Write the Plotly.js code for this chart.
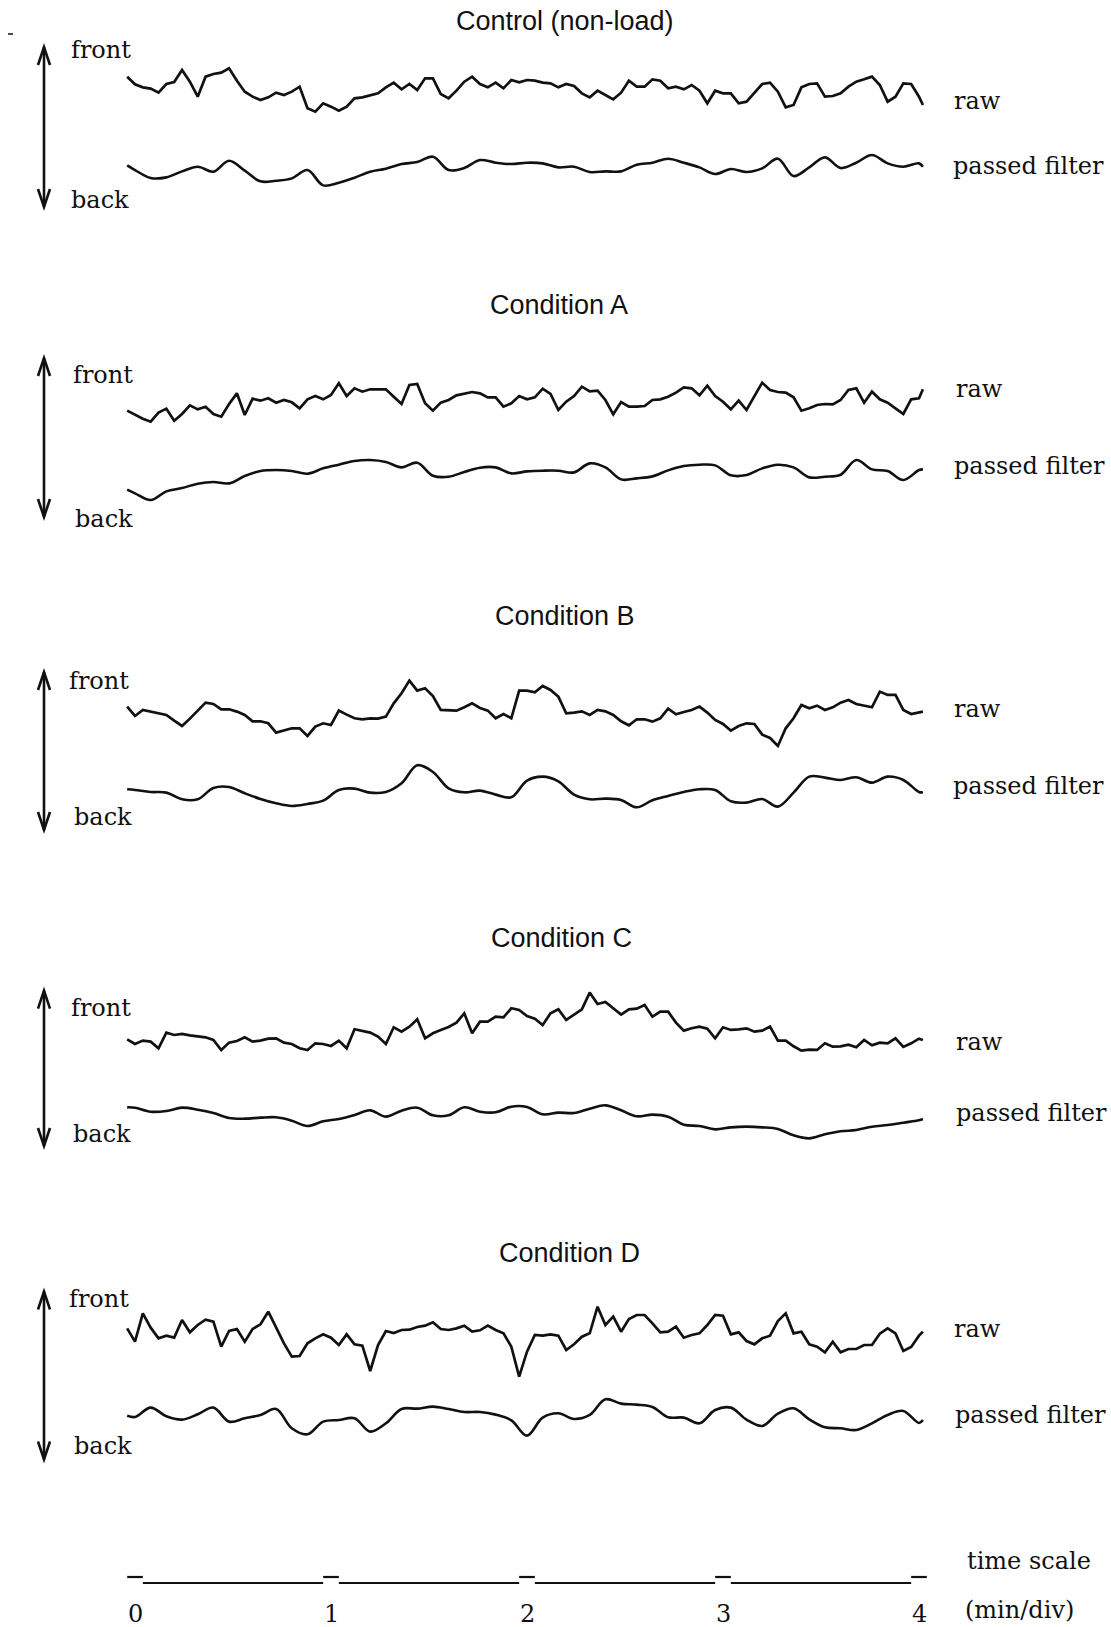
<!DOCTYPE html>
<html><head><meta charset="utf-8">
<script src="https://cdn.plot.ly/plotly-3.0.1.min.js"></script>
<style>html,body{margin:0;padding:0;background:#fff;}#chart{width:1111px;height:1627px;}</style>
</head><body><div id="chart"></div>
<script>
// ---------- DATA (time in minutes, displacement in arbitrary units, + = front) ----------
const T_RAW = [-0.04,
 0,0.04,0.08,0.12,0.16,0.2,0.24,0.28,0.32,0.36,
 0.4,0.44,0.48,0.52,0.56,0.6,0.64,0.68,0.72,0.76,
 0.8,0.84,0.88,0.92,0.96,1,1.04,1.08,1.12,1.16,
 1.2,1.24,1.28,1.32,1.36,1.4,1.44,1.48,1.52,1.56,
 1.6,1.64,1.68,1.72,1.76,1.8,1.84,1.88,1.92,1.96,
 2,2.04,2.08,2.12,2.16,2.2,2.24,2.28,2.32,2.36,
 2.4,2.44,2.48,2.52,2.56,2.6,2.64,2.68,2.72,2.76,
 2.8,2.84,2.88,2.92,2.96,3,3.04,3.08,3.12,3.16,
 3.2,3.24,3.28,3.32,3.36,3.4,3.44,3.48,3.52,3.56,
 3.6,3.64,3.68,3.72,3.76,3.8,3.84,3.88,3.92,3.96,
 4,4.02];
const T_FILT = [-0.04,
 0,0.08,0.16,0.24,0.32,
 0.4,0.48,0.56,0.64,0.72,
 0.8,0.88,0.96,1.04,1.12,
 1.2,1.28,1.36,1.44,1.52,
 1.6,1.68,1.76,1.84,1.92,
 2,2.08,2.16,2.24,2.32,
 2.4,2.48,2.56,2.64,2.72,
 2.8,2.88,2.96,3.04,3.12,
 3.2,3.28,3.36,3.44,3.52,
 3.6,3.68,3.76,3.84,3.92,
 4,4.02];

const TITLES = ["Control (non-load)","Condition A","Condition B","Condition C","Condition D"];

const CONTROL_RAW = [40,
 17,8,4,-8,18,24,60,25,-20,40,
 48,52,65,28,-5,-20,-30,-22,-8,-15,
 -5,10,-55,-65,-40,-50,-62,-50,-25,-22,
 -15,-10,8,22,2,18,0,35,35,-12,
 -25,-2,25,40,18,8,22,5,30,23,
 30,28,22,20,8,18,12,-10,-22,-2,
 -15,-28,-8,28,10,10,32,28,5,10,
 2,15,-2,-40,-2,-10,-10,-40,-35,-8,
 18,22,-5,-52,-45,8,18,20,-20,-18,
 -10,10,25,32,40,15,-35,-20,20,18,
 -20,-45];
const CONTROL_FILT = [4,
 -10,-34,-32,-14,0,
 -15,18,-12,-44,-42,
 -35,-10,-56,-48,-33,
 -15,-6,8,14,30,
 -10,-4,20,12,8,
 12,10,-2,0,-16,
 -14,-14,6,12,24,
 12,-2,-22,-7,-16,
 -5,24,-28,-2,28,
 -4,12,35,10,0,
 10,0];

const A_RAW = [-32,
 -45,-56,-65,-38,-26,-62,-42,-16,-28,-20,
 -42,-50,-12,20,-45,4,-2,5,-8,0,
 -7,-25,2,12,2,15,50,12,35,25,
 32,32,32,10,-12,45,48,-10,-32,-8,
 0,14,20,24,20,8,8,-20,-10,12,
 2,8,34,18,-30,-5,12,40,26,28,
 0,-43,-6,-20,-20,-18,0,2,10,22,
 38,35,14,43,12,-5,-28,-2,-30,10,
 52,30,24,22,8,-32,-25,-15,-12,-13,
 0,30,35,-8,25,2,-8,-25,-42,2,
 5,32];
const A_FILT = [-39,
 -50,-70,-44,-34,-21,
 -16,-20,2,17,20,
 17,9,25,36,47,
 50,44,28,42,3,
 0,14,27,28,10,
 16,18,18,13,40,
 28,-8,-5,1,19,
 32,36,34,4,5,
 25,36,28,-2,0,
 6,50,22,17,-10,
 20,22];

const B_RAW = [20,
 -8,10,5,-2,-5,-22,-38,-16,8,32,
 28,12,12,5,-5,-24,-24,-30,-58,-52,
 -45,-45,-68,-40,-30,-35,8,-4,-15,-18,
 -15,-16,-10,30,60,98,68,75,52,10,
 8,8,18,30,16,8,-15,-2,-15,68,
 68,63,82,70,50,0,2,6,-5,10,
 6,-5,-24,-36,-18,-18,-25,-15,14,-3,
 4,10,20,2,-20,-32,-52,-38,-30,-32,
 -64,-74,-98,-45,-15,25,15,23,10,18,
 32,40,28,23,18,65,55,55,10,-2,
 2,5];
const B_FILT = [12,
 10,4,2,-18,-18,
 16,19,0,-17,-30,
 -38,-32,-22,10,14,
 2,4,30,84,64,
 15,3,8,-4,-12,
 38,50,36,-4,-18,
 -16,-20,-42,-21,-8,
 4,12,10,-24,-28,
 -17,-40,2,50,47,
 40,48,32,50,40,
 4,3];

const C_RAW = [-18,
 -32,-22,-25,-45,2,-5,-2,-6,-10,-12,
 -20,-50,-28,-23,-12,-25,-22,-16,-15,-28,
 -32,-45,-50,-30,-32,-38,-22,-45,12,8,
 2,-10,-32,18,5,20,42,-15,0,10,
 19,32,60,0,35,35,50,48,75,70,
 52,44,25,60,72,40,55,72,122,88,
 94,75,56,72,74,85,50,65,65,32,
 8,15,20,14,-15,18,10,12,15,5,
 8,20,-22,-22,-39,-52,-49,-50,-30,-40,
 -39,-34,-42,-20,-36,-28,-30,-15,-41,-30,
 -16,-20];
const C_FILT = [38,
 37,25,27,37,31,
 21,6,4,7,8,
 -2,-18,-4,3,15,
 29,10,28,37,14,
 14,38,25,23,40,
 39,17,22,21,34,
 44,29,11,16,10,
 -14,-18,-28,-22,-20,
 -22,-27,-46,-55,-43,
 -34,-30,-20,-15,-8,
 -1,3];

const D_RAW = [20,
 -20,65,22,-10,-2,-8,45,8,30,46,
 40,-35,12,18,-20,18,32,70,20,-25,
 -65,-63,-25,-10,2,-8,-30,2,-28,-32,
 -108,-30,12,6,15,16,24,28,38,18,
 15,20,28,10,14,28,15,5,-35,-125,
 -50,0,-2,2,-2,-45,-28,-5,5,85,
 30,55,10,48,60,60,35,8,10,25,
 -8,0,5,30,60,58,2,8,-18,-28,
 -10,-2,42,65,5,10,-28,-35,-52,-20,
 -52,-42,-42,-30,-30,4,20,5,-48,-36,
 -2,10];
const D_FILT = [8,
 4,32,6,-4,12,
 32,-10,0,10,28,
 -30,-48,-10,-5,0,
 -40,-15,28,29,35,
 28,19,19,11,-6,
 -52,2,15,-2,10,
 57,44,41,34,3,
 2,-15,25,32,-4,
 -23,14,30,-3,-27,
 -30,-35,-15,10,22,
 -14,-5];

const TICKS = [0,1,2,3,4];
const TICK_TEXT = ["0","1","2","3","4"];

// ---------- LAYOUT CONSTANTS (pixels) ----------
const W = 1111, H = 1627;
const X0_PX = 135, PX_PER_MIN = 196;
const UNITS_PER_PX = 3;
const INK = '#111111';

const RAWS = [CONTROL_RAW, A_RAW, B_RAW, C_RAW, D_RAW];
const FILTS = [CONTROL_FILT, A_FILT, B_FILT, C_FILT, D_FILT];
const PANELS = [
 {rawBase:90,    filtBase:166.7, title:[565,21],   arrow:[47,207],    front:[68.5,50],  back:[68.5,200], raw:[952,100.6], pf:[951,166]},
 {rawBase:400,   filtBase:476.7, title:[559,305],  arrow:[358,517],   front:[70.5,375.5], back:[72.6,518.7], raw:[954,389], pf:[952,465.7]},
 {rawBase:713.3, filtBase:793.3, title:[565,616],  arrow:[672,830],   front:[67.4,680.5], back:[71.6,817.4], raw:[952,708.5], pf:[951,786.3]},
 {rawBase:1033.3,filtBase:1120,  title:[561.7,937.7], arrow:[990.6,1146], front:[68.5,1008], back:[70.5,1133.8], raw:[954,1041.5], pf:[954,1113]},
 {rawBase:1335,  filtBase:1418.3,title:[569.5,1253], arrow:[1291.5,1459.5], front:[67.4,1298.7], back:[71.6,1446], raw:[952,1328.8], pf:[953,1415]}
];
const ARROW_X = 44;
const TS_LINE_PX = 1583, TS_DASH_PX = 1577, TS_LABEL_PX = 1614;

const fx = p => p / W;
const fy = p => 1 - p / H;

const traces = [];
const layout = {
  width: W, height: H,
  margin: {l:0, r:0, t:0, b:0, pad:0},
  paper_bgcolor: '#fff', plot_bgcolor: '#fff',
  showlegend: false,
  xaxis: {range: [-X0_PX / PX_PER_MIN, (W - X0_PX) / PX_PER_MIN], visible: false, fixedrange: true},
  annotations: [], shapes: []
};

let axisIdx = 0;
function addAxis(basePx) {
  axisIdx++;
  const name = axisIdx === 1 ? 'yaxis' : 'yaxis' + axisIdx;
  const ax = {range: [UNITS_PER_PX * (basePx - H), UNITS_PER_PX * basePx], visible: false, fixedrange: true, domain: [0, 1]};
  if (axisIdx > 1) ax.overlaying = 'y';
  layout[name] = ax;
  return axisIdx === 1 ? 'y' : 'y' + axisIdx;
}

const serif = {family: 'DejaVu Serif, serif', size: 24, color: INK};
const sans = {family: 'Liberation Sans, Arial, sans-serif', size: 27, color: INK};
function label(text, x, y, font, xanchor) {
  layout.annotations.push({text, x: fx(x), y: fy(y), xref: 'paper', yref: 'paper', showarrow: false, xanchor: xanchor || 'left', yanchor: 'middle', font});
}

PANELS.forEach((p, i) => {
  const yr = addAxis(p.rawBase);
  traces.push({x: T_RAW, y: RAWS[i], yaxis: yr, type: 'scatter', mode: 'lines', line: {color: INK, width: 2.7}, hoverinfo: 'skip'});
  const yf = addAxis(p.filtBase);
  traces.push({x: T_FILT, y: FILTS[i], yaxis: yf, type: 'scatter', mode: 'lines', line: {color: INK, width: 2.6, shape: 'spline', smoothing: 1}, hoverinfo: 'skip'});

  label(TITLES[i], p.title[0], p.title[1], sans, 'center');
  label('front', p.front[0], p.front[1], serif);
  label('back', p.back[0], p.back[1], serif);
  label('raw', p.raw[0], p.raw[1], serif);
  label('passed filter', p.pf[0], p.pf[1], serif);

  const [top, bot] = p.arrow;
  const ln = {color: INK, width: 2.6};
  layout.shapes.push({type: 'line', xref: 'paper', yref: 'paper', x0: fx(ARROW_X), x1: fx(ARROW_X), y0: fy(top), y1: fy(bot), line: ln});
  const hw = 6, hl = 18;
  layout.shapes.push({type: 'path', xref: 'paper', yref: 'paper', line: ln,
    path: `M ${fx(ARROW_X - hw)} ${fy(top + hl)} L ${fx(ARROW_X)} ${fy(top)} L ${fx(ARROW_X + hw)} ${fy(top + hl)}`});
  layout.shapes.push({type: 'path', xref: 'paper', yref: 'paper', line: ln,
    path: `M ${fx(ARROW_X - hw)} ${fy(bot - hl)} L ${fx(ARROW_X)} ${fy(bot)} L ${fx(ARROW_X + hw)} ${fy(bot - hl)}`});
});

// time scale bar: raised dash at each minute mark, baseline between marks
const TS_UNIT_PX = TS_LINE_PX - TS_DASH_PX;
axisIdx++;
layout['yaxis' + axisIdx] = {range: [(TS_LINE_PX - H) / TS_UNIT_PX, TS_LINE_PX / TS_UNIT_PX], visible: false, fixedrange: true, overlaying: 'y', domain: [0, 1]};
const DASH_HALF = 0.04;
const tsx = [], tsy = [];
TICKS.forEach((k, i) => {
  tsx.push(k - DASH_HALF, k + DASH_HALF, null); tsy.push(1, 1, null);
  if (i < TICKS.length - 1) { tsx.push(k + DASH_HALF, TICKS[i + 1] - DASH_HALF, null); tsy.push(0, 0, null); }
});
traces.push({x: tsx, y: tsy, yaxis: 'y' + axisIdx, type: 'scatter', mode: 'lines', connectgaps: false, line: {color: INK, width: 2.2}, hoverinfo: 'skip'});
TICKS.forEach((k, i) => {
  layout.annotations.push({text: TICK_TEXT[i], x: k, xref: 'x', y: fy(TS_LABEL_PX), yref: 'paper', showarrow: false, xanchor: 'center', yanchor: 'middle', font: serif});
});
label('time scale', 964.7, 1561, serif);
label('(min/div)', 962.6, 1610, serif);

// small scan mark top-left
layout.shapes.push({type: 'line', xref: 'paper', yref: 'paper', x0: fx(8), x1: fx(13), y0: fy(34), y1: fy(34), line: {color: INK, width: 1.5}});

Plotly.newPlot('chart', traces, layout, {staticPlot: true, displayModeBar: false});
</script>
</body></html>
